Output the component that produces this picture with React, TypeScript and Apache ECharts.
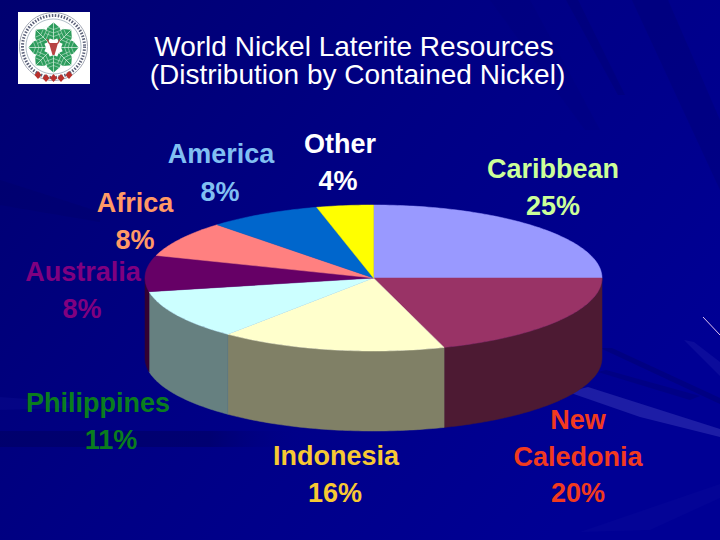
import React, { useEffect, useRef } from "react";
import * as echarts from "echarts";

const titleLines = ["World Nickel Laterite Resources", "(Distribution by Contained Nickel)"];
const regions = ["Caribbean", "New Caledonia", "Indonesia", "Philippines", "Australia", "Africa", "America", "Other"];
const shares = [25, 20, 16, 11, 8, 8, 8, 4];

const topColors = ["#9999FF", "#993366", "#FFFFCC", "#CCFFFF", "#660066", "#FF8080", "#0066CC", "#FFFF00"];
const sideColors = ["#4D4D80", "#4D1A33", "#808066", "#668080", "#330033", "#804040", "#003366", "#808000"];
const labelColors = ["#CCFF99", "#F23A1E", "#F7C933", "#0A7D1E", "#800080", "#FF9966", "#80BFF2", "#FFFFFF"];
const nameCenters = [[553, 169], [578, 420], [336, 456], [98, 403], [83, 272], [135, 203], [221, 154], [340, 144]];
const valueCenters = [[553, 206], [578, 493], [335, 493], [111, 440], [82, 309], [135, 240], [220, 192], [338, 181]];

const DEPTH = 80;
const STEP = Math.PI / 180;

const fade = (color: string, x0: number, y0: number, x1: number, y1: number) =>
  new echarts.graphic.LinearGradient(x0, y0, x1, y1, [
    { offset: 0, color },
    { offset: 0.7, color },
    { offset: 1, color: "rgba(0,0,128,0)" },
  ]);

const rays = [
  { points: [[568, 392], [588, 387], [720, 429], [720, 437], [640, 417]], color: "#3a3ab8", opacity: 0.5 },
  { points: [[684, 340], [694, 342], [720, 362], [720, 376]], color: "#3030b0", opacity: 0.25 },
  { points: [[600, 348], [612, 348], [720, 398], [720, 404]], color: "#000050", opacity: 0.25 },
  { points: [[598, 372], [606, 370], [700, 396], [690, 400]], color: "#000050", opacity: 0.22 },
  { points: [[580, 532], [720, 484], [720, 498], [650, 530]], color: "#2a2ab0", opacity: 0.1 },
  { points: [[632, 0], [668, 0], [720, 120], [720, 190]], color: "#000060", opacity: 0.22 },
  { points: [[566, 0], [578, 0], [625, 95], [618, 95]], color: "#000060", opacity: 0.22 },
  { points: [[490, 0], [530, 0], [600, 130], [585, 130]], color: "#000060", opacity: 0.1 },
  { points: [[0, 397], [70, 402], [70, 408], [0, 410]], color: "#2020b0", opacity: 0.15 },
  { points: [[0, 180], [100, 212], [100, 222], [0, 205]], color: "#000050", opacity: 0.15 },
];

const CX = 53.5;
const CY = 47.5;

function buildLogo() {
  const children: any[] = [
    { type: "rect", shape: { x: 18, y: 12, width: 72, height: 72 }, style: { fill: "#FFFFFF" }, z: 5 },
    { type: "circle", shape: { cx: CX, cy: CY - 1, r: 34 }, style: { fill: "none", stroke: "#8A90A0", lineWidth: 0.8 }, z: 6 },
    { type: "circle", shape: { cx: CX, cy: CY - 1, r: 31 }, style: { fill: "none", stroke: "#5A6078", lineWidth: 3, lineDash: [1.5, 1.5] }, z: 6 },
    { type: "circle", shape: { cx: CX, cy: CY - 1, r: 27.5 }, style: { fill: "none", stroke: "#7A90A0", lineWidth: 0.6 }, z: 6 },
  ];
  for (let i = 0; i < 8; i++) {
    const a = (i * Math.PI) / 4;
    const frond: any[] = [
      {
        type: "polygon",
        z: 7,
        shape: { points: [[0, -25], [6, -20], [9, -13], [6, -10], [1, -8], [-1, -8], [-6, -10], [-9, -13], [-6, -20]] },
        style: { fill: "#2C9C5C" },
      },
      { type: "line", z: 8, shape: { x1: 0, y1: -25, x2: 0, y2: -8 }, style: { stroke: "#E2F5E8", lineWidth: 0.7 } },
    ];
    [-21, -17.5, -14].forEach((y) => {
      frond.push({ type: "line", z: 8, shape: { x1: 0, y1: y + 3, x2: 8, y2: y }, style: { stroke: "#E2F5E8", lineWidth: 0.5 } });
      frond.push({ type: "line", z: 8, shape: { x1: 0, y1: y + 3, x2: -8, y2: y }, style: { stroke: "#E2F5E8", lineWidth: 0.5 } });
    });
    children.push({ type: "group", x: CX, y: CY, rotation: -a, children: frond });
  }
  children.push({
    type: "polygon",
    z: 9,
    shape: { points: [[49, 43], [58, 43], [56, 50], [54.5, 55], [52.5, 55], [51, 50]] },
    style: { fill: "#B84444" },
  });
  children.push({
    type: "polyline",
    z: 9,
    shape: { points: [[47, 39], [49, 43], [53.5, 45], [58, 43], [60, 39]] },
    style: { stroke: "#B84444", lineWidth: 1.2, fill: "none" },
  });
  [38, 46, 53.5, 61, 69].forEach((x, i) => {
    const y = i === 0 || i === 4 ? 75 : 78;
    children.push({
      type: "polygon",
      z: 9,
      shape: { points: [[x, y - 4], [x + 3.5, y], [x, y + 4], [x - 3.5, y]] },
      style: { fill: "#B8302C" },
    });
  });
  return children;
}

function slicePoints(api: any, from: number, to: number, drop: number | null) {
  const rim: number[][] = [];
  const count = Math.max(2, Math.ceil((to - from) / STEP));
  for (let i = 0; i <= count; i++) {
    const t = from + ((to - from) * i) / count;
    rim.push(api.coord([Math.sin(t), Math.cos(t)]));
  }
  if (drop === null) return [api.coord([0, 0]), ...rim];
  const lower = rim.map(([x, y]) => [x, y + drop]).reverse();
  return [...rim, ...lower];
}

function angleRange(api: any) {
  return [(api.value(0) / 100) * 2 * Math.PI, (api.value(1) / 100) * 2 * Math.PI];
}

export default function App() {
  const ref = useRef<HTMLDivElement>(null);

  useEffect(() => {
    const chart = echarts.init(ref.current!, undefined, { renderer: "svg" });
    let running = 0;
    const spans = shares.map((s, i) => {
      const item = { value: [running, running + s, i] };
      running += s;
      return item;
    });

    const labelFont = 'bold 27px "Liberation Sans", Arial, sans-serif';
    const titleFont = '28px "Liberation Sans", Arial, sans-serif';
    const labels = regions.flatMap((name, i) => [
      {
        type: "text",
        z: 20,
        silent: true,
        style: {
          x: nameCenters[i][0],
          y: nameCenters[i][1] - 18.5,
          text: name.replace(" ", "\n"),
          fill: labelColors[i],
          font: labelFont,
          lineHeight: 37,
          align: "center",
          verticalAlign: "top",
        },
      },
      {
        type: "text",
        z: 20,
        silent: true,
        style: {
          x: valueCenters[i][0],
          y: valueCenters[i][1] - 18.5,
          text: `${shares[i]}%`,
          fill: labelColors[i],
          font: labelFont,
          lineHeight: 37,
          align: "center",
          verticalAlign: "top",
        },
      },
    ]);

    chart.setOption({
      animation: false,
      grid: { left: 145, width: 457, top: 205, height: 146 },
      xAxis: { type: "value", min: -1, max: 1, show: false },
      yAxis: { type: "value", min: -1, max: 1, show: false },
      graphic: [
        {
          type: "rect",
          z: -10,
          silent: true,
          shape: { x: 0, y: 0, width: 720, height: 540 },
          style: {
            fill: new echarts.graphic.LinearGradient(0, 0, 1, 0.6, [
              { offset: 0, color: "#000070" },
              { offset: 0.5, color: "#000084" },
              { offset: 1, color: "#000094" },
            ]),
          },
        },
        ...rays.map((r) => ({
          type: "polygon",
          z: -5,
          silent: true,
          shape: { points: r.points },
          style: { fill: r.color, opacity: r.opacity },
        })),
        {
          type: "rect",
          z: -5,
          silent: true,
          shape: { x: 0, y: 431, width: 300, height: 16 },
          style: { fill: fade("#000058", 0, 0, 1, 0), opacity: 0.45 },
        },
        {
          type: "line",
          z: -4,
          silent: true,
          shape: { x1: 703, y1: 317, x2: 720, y2: 335 },
          style: { stroke: "#E0C4F0", lineWidth: 1 },
        },
        { type: "group", silent: true, children: buildLogo() },
        {
          type: "text",
          z: 20,
          silent: true,
          style: { x: 354, y: 46, text: titleLines[0], fill: "#FFFFFF", font: titleFont, align: "center", verticalAlign: "middle" },
        },
        {
          type: "text",
          z: 20,
          silent: true,
          style: { x: 357.5, y: 74, text: titleLines[1], fill: "#FFFFFF", font: titleFont, align: "center", verticalAlign: "middle" },
        },
        ...labels,
      ],
      series: [
        {
          type: "custom",
          name: "sides",
          z: 2,
          silent: true,
          clip: false,
          data: spans,
          renderItem: (_p: any, api: any) => {
            const [s, e] = angleRange(api);
            const from = Math.max(s, Math.PI / 2);
            const to = Math.min(e, (3 * Math.PI) / 2);
            if (to <= from) return { type: "group", children: [] };
            const c = sideColors[api.value(2)];
            return {
              type: "polygon",
              shape: { points: slicePoints(api, from, to, DEPTH) },
              style: { fill: c, stroke: c, lineWidth: 0.5 },
            };
          },
        },
        {
          type: "custom",
          name: "tops",
          z: 3,
          silent: true,
          clip: false,
          data: spans,
          renderItem: (_p: any, api: any) => {
            const [s, e] = angleRange(api);
            const c = topColors[api.value(2)];
            return {
              type: "polygon",
              shape: { points: slicePoints(api, s, e, null) },
              style: { fill: c, stroke: c, lineWidth: 0.5 },
            };
          },
        },
      ],
    });

    return () => chart.dispose();
  }, []);

  return <div ref={ref} style={{ position: "absolute", left: 0, top: 0, width: 720, height: 540 }} />;
}
